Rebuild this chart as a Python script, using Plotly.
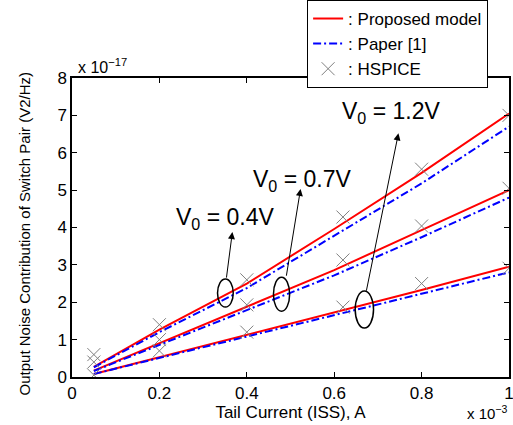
import plotly.graph_objects as go

# x in units of 1e-3 A, y in units of 1e-17 V^2/Hz
x_model = [0.05, 0.2, 0.4, 0.6, 0.8, 1.0]
prop_12 = [0.27, 1.27, 2.50, 3.96, 5.46, 7.05]
prop_07 = [0.17, 0.90, 1.88, 2.86, 3.93, 5.00]
prop_04 = [0.08, 0.53, 1.12, 1.73, 2.33, 2.95]
paper_12 = [0.26, 1.20, 2.38, 3.77, 5.18, 6.70]
paper_07 = [0.16, 0.86, 1.79, 2.72, 3.74, 4.80]
paper_04 = [0.08, 0.51, 1.07, 1.65, 2.22, 2.80]

x_sim = [0.05, 0.2, 0.4, 0.62, 0.8, 1.0]
hsp_12 = [0.60, 1.40, 2.60, 4.28, 5.56, 7.00]
hsp_07 = [0.40, 1.00, 1.93, 3.13, 4.04, 5.05]
hsp_04 = [0.05, 0.70, 1.20, 1.87, 2.50, 2.91]

x_ticks = [0, 0.2, 0.4, 0.6, 0.8, 1]
x_tick_text = ["0", "0.2", "0.4", "0.6", "0.8", "1"]
y_ticks = [0, 1, 2, 3, 4, 5, 6, 7, 8]

FONT = "Liberation Sans, Arial, sans-serif"

fig = go.Figure()
for i, ys in enumerate([prop_12, prop_07, prop_04]):
    fig.add_trace(go.Scatter(x=x_model, y=ys, mode="lines",
                             line=dict(color="#ff0000", width=2),
                             name=": Proposed model", legendgroup="p",
                             showlegend=(i == 0)))
for i, ys in enumerate([paper_12, paper_07, paper_04]):
    fig.add_trace(go.Scatter(x=x_model, y=ys, mode="lines",
                             line=dict(color="#0000ff", width=2, dash="8px,3px,2px,3px"),
                             name=": Paper [1]", legendgroup="b",
                             showlegend=(i == 0)))
for i, ys in enumerate([hsp_12, hsp_07, hsp_04]):
    fig.add_trace(go.Scatter(x=x_sim, y=ys, mode="markers",
                             marker=dict(symbol="x-thin-open", size=13, color="#808080",
                                         line=dict(color="#808080", width=1)),
                             name=": HSPICE", legendgroup="h",
                             showlegend=(i == 0)))

# ellipses (data coords)
ellipses = [(0.333, 0.369, 1.87, 2.62), (0.461, 0.498, 1.76, 2.67), (0.648, 0.690, 1.31, 2.30)]
for x0, x1, y0, y1 in ellipses:
    fig.add_shape(type="circle", xref="x", yref="y", x0=x0, x1=x1, y0=y0, y1=y1,
                  line=dict(color="black", width=1.5))

# arrows: (head_x, head_y, tail_x, tail_y)
arrows = [(0.367, 3.88, 0.353, 2.62), (0.523, 5.03, 0.490, 2.67), (0.747, 6.52, 0.673, 2.27)]
for hx, hy, tx, ty in arrows:
    fig.add_annotation(x=hx, y=hy, ax=tx, ay=ty, xref="x", yref="y", axref="x", ayref="y",
                       showarrow=True, arrowhead=2, arrowsize=1.4, arrowwidth=1, arrowcolor="black",
                       text="")

labels = [(0.349, 4.25, "V<sub>0</sub> = 0.4V"), (0.527, 5.27, "V<sub>0</sub> = 0.7V"),
          (0.731, 7.09, "V<sub>0</sub> = 1.2V")]
for lx, ly, t in labels:
    fig.add_annotation(x=lx, y=ly, xref="x", yref="y", text=t, showarrow=False,
                       font=dict(family=FONT, size=23, color="black"))

fig.add_annotation(x=0.008, y=1.0, xref="x", yref="paper", xanchor="left", yanchor="bottom",
                   text="x 10<sup>−17</sup>", showarrow=False,
                   font=dict(family=FONT, size=16, color="black"))
fig.add_annotation(x=1.0, y=-0.118, xref="paper", yref="paper", xanchor="right", yanchor="middle",
                   text="x 10<sup>−3</sup>", showarrow=False,
                   font=dict(family=FONT, size=15, color="black"))
fig.add_annotation(x=-0.1076, y=0.48, xref="paper", yref="paper", xanchor="center", yanchor="middle",
                   text="Output Noise Contribution of Switch Pair (V2/Hz)", textangle=-90,
                   showarrow=False, font=dict(family=FONT, size=15, color="black"))

axis_common = dict(showline=True, linecolor="black", linewidth=1.5, mirror="ticks",
                   ticks="inside", ticklen=5, tickcolor="black", showgrid=False,
                   zeroline=False, ticklabeloverflow="allow",
                   tickfont=dict(family=FONT, size=17, color="black"))
fig.update_xaxes(range=[0, 1], tickvals=x_ticks, ticktext=x_tick_text,
                 title=dict(text="Tail Current (ISS), A", font=dict(family=FONT, size=17, color="black"),
                            standoff=2),
                 **axis_common)
fig.update_yaxes(range=[0, 8], tickvals=y_ticks, **axis_common)

fig.update_layout(
    width=513, height=425,
    margin=dict(l=72, r=4, t=78, b=48, autoexpand=False),
    plot_bgcolor="white", paper_bgcolor="white",
    font=dict(family=FONT, color="black"),
    legend=dict(x=0.538, y=1.261, xanchor="left", yanchor="top",
                bordercolor="black", borderwidth=1, bgcolor="white",
                font=dict(family=FONT, size=17, color="black"),
                itemwidth=30, tracegroupgap=0),
)
fig.write_html("out.html", config={"displayModeBar": False},
               post_script="document.body.style.margin='0';document.body.style.overflow='hidden';")
